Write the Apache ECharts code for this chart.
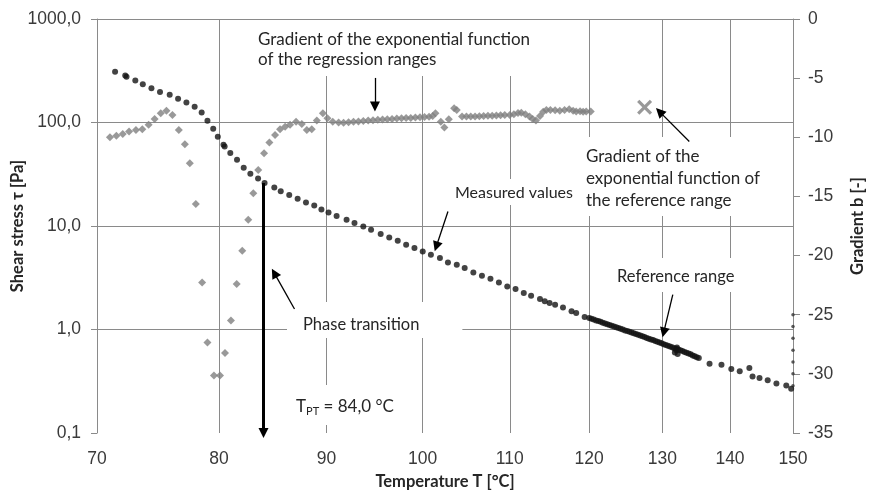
<!DOCTYPE html>
<html>
<head>
<meta charset="UTF-8">
<title>Shear stress and gradient vs temperature</title>
<script src="https://cdn.jsdelivr.net/npm/echarts@6/dist/echarts.min.js"></script>
<style>
  body { margin: 0; background: #fff; }
  #chart { width: 871px; height: 495px; }
</style>
</head>
<body>
<div id="chart"></div>
<script>
// measured shear stress (black dots), left log axis
var measuredT = [
  71.4, 72.2, 72.3, 73.0, 73.6, 74.3, 75.0, 75.8, 76.5, 77.2, 77.9, 78.5, 79.0, 79.5, 79.9, 80.4, 80.5, 81.0,
  81.6, 82.2, 82.8, 83.5, 84.1, 85.0, 85.6, 86.4, 87.2, 88.0, 88.8, 89.5, 90.2, 91.0,
  92.0, 92.8, 93.7, 94.5, 95.5, 96.4, 97.3, 98.2, 99.1, 100.0, 100.9, 101.9, 102.8, 103.8, 104.7, 105.7,
  106.7, 107.7, 108.7, 109.7, 110.7, 111.7, 112.6, 113.7, 114.3, 114.9, 115.6, 116.6, 117.7, 118.3, 119.4,
  120.0, 120.3, 120.6, 120.9, 121.2, 121.5, 121.8, 122.1, 122.4, 122.7, 123.0, 123.3, 123.6, 123.9, 124.2,
  124.5, 124.8, 125.1, 125.4, 125.7, 126.0, 126.3, 126.6, 126.9, 127.2, 127.5, 127.8, 128.1, 128.4, 128.7,
  129.0, 129.3, 129.6, 129.9, 130.2, 130.5, 130.8, 131.1, 131.4, 131.7, 132.0, 131.8, 132.0, 132.2, 132.1,
  132.3, 132.6, 132.9, 133.2, 133.5, 133.8, 134.1, 134.4, 134.7, 135.0, 135.3,
  136.9, 138.7, 140.2, 141.5, 143.0, 143.5, 144.6, 145.9, 147.3, 148.9, 149.7
];
var measuredTau = [
  310, 284, 277, 254, 234, 214, 197, 185, 170, 156, 142, 125, 104, 87, 73, 61, 58.5, 50.6,
  43.6, 36.5, 31.9, 28.8, 26.0, 23.5, 21.7, 19.9, 18.3, 16.9, 15.8, 14.4, 13.5, 12.5,
  11.5, 10.7, 9.89, 9.19, 8.35, 7.74, 7.20, 6.59, 6.12, 5.67, 5.27, 4.90, 4.45, 4.22, 3.92, 3.56,
  3.30, 3.09, 2.85, 2.61, 2.46, 2.25, 2.12, 1.97, 1.87, 1.80, 1.73, 1.63, 1.50, 1.44, 1.32,
  1.29, 1.27, 1.25, 1.225, 1.205, 1.185, 1.165, 1.145, 1.125, 1.105, 1.09, 1.07, 1.05, 1.035, 1.015,
  1.0, 0.98, 0.965, 0.95, 0.935, 0.92, 0.905, 0.89, 0.875, 0.86, 0.845, 0.83, 0.815, 0.80, 0.79,
  0.775, 0.76, 0.75, 0.735, 0.72, 0.71, 0.695, 0.685, 0.675, 0.66, 0.65, 0.60, 0.63, 0.58, 0.67,
  0.64, 0.63, 0.62, 0.605, 0.595, 0.585, 0.575, 0.56, 0.55, 0.54, 0.53,
  0.468, 0.457, 0.416, 0.394, 0.425, 0.352, 0.340, 0.323, 0.300, 0.287, 0.267
];

// gradient of the regression ranges (grey diamonds), right axis
var gradT = [
  71.0, 71.5, 72.0, 72.5, 73.05, 73.56, 74.07, 74.56, 75.06, 75.53, 76.03, 76.56, 77.07, 77.49, 78.0,
  78.54, 79.0, 79.56, 80.09, 80.53, 81.06, 81.57, 82.07, 82.61, 83.07, 83.52, 84.05, 84.54, 85.07, 85.54,
  86.01, 86.48, 87.05, 87.6, 88.08, 88.56, 89.05, 89.64, 90.09, 90.62,
  91.2, 91.7, 92.2, 92.7, 93.2, 93.7, 94.2, 94.7, 95.2, 95.7, 96.2, 96.7, 97.2, 97.7, 98.2, 98.7, 99.2,
  99.7, 100.2, 100.7, 101.1, 101.4, 102.0, 102.4, 102.9, 103.5, 103.8, 104.4, 104.9, 105.4, 105.9, 106.4,
  106.9, 107.4, 107.9, 108.4, 108.9, 109.4, 110.0, 110.5, 111.0, 111.4, 111.9, 112.4, 112.8, 113.2, 113.7,
  114.1, 114.5, 115.0, 115.6, 116.2, 116.8, 117.4, 117.9, 118.3, 118.8, 119.2, 119.6, 120.2
];
var gradB = [
  -9.99, -9.88, -9.72, -9.52, -9.38, -9.32, -8.95, -8.45, -7.97, -7.75, -8.11, -9.38, -10.59, -12.19, -15.63,
  -22.28, -27.35, -30.14, -30.14, -28.24, -25.49, -22.41, -19.60, -16.98, -14.73, -12.76, -11.35, -10.45, -9.80, -9.32,
  -9.10, -8.95, -8.68, -8.87, -9.38, -9.32, -8.59, -7.97, -8.39, -8.68,
  -8.76, -8.78, -8.72, -8.68, -8.66, -8.62, -8.58, -8.55, -8.52, -8.50, -8.47, -8.45, -8.42, -8.40, -8.38, -8.36, -8.33,
  -8.30, -8.28, -8.26, -8.20, -7.97, -8.68, -9.18, -8.47, -7.54, -7.69, -8.25, -8.25, -8.25, -8.25, -8.22,
  -8.20, -8.18, -8.17, -8.15, -8.14, -8.12, -8.11, -8.05, -7.95, -7.92, -8.05, -8.25, -8.45, -8.59, -8.20,
  -7.85, -7.69, -7.70, -7.72, -7.75, -7.70, -7.63, -7.75, -7.83, -7.80, -7.85, -7.83, -7.83
];

// gradient of the reference range (grey cross)
var refGradT = [127.5];
var refGradB = [-7.46];

// small dots on the right edge
var edgeT = [150, 150, 150, 150, 150, 150, 150];
var edgeB = [-25, -26, -27, -28, -29, -30, -31];

var xTicks = [70, 80, 90, 100, 110, 120, 130, 140, 150];
var tPhase = 84.0;
var tauAtPhase = 26;

function pairs(xs, ys) {
  var out = [];
  for (var i = 0; i < xs.length; i++) out.push([xs[i], ys[i]]);
  return out;
}

function arrow(from, to, extra) {
  var a = { coord: from, symbol: 'none' };
  var b = { coord: to, symbol: 'triangle' };
  if (extra) { for (var k in extra) a[k] = extra[k]; }
  return [a, b];
}

var gridColor = '#8a8a8a';
var labelColor = '#3a3a3a';
var textColor = '#262626';
var numFont = 'Liberation Sans';
var annFont = 'Lato';

var option = {
  animation: false,
  backgroundColor: '#fff',
  grid: { left: 97, right: 78, top: 19, bottom: 62, containLabel: false, outerBoundsMode: 'none' },
  xAxis: {
    type: 'log',
    logBase: 10,
    min: 70,
    max: 150,
    name: 'Temperature T [°C]',
    nameLocation: 'middle',
    nameGap: 40,
    nameMoveOverlap: false,
    nameTextStyle: { fontFamily: annFont, fontWeight: 'bold', fontSize: 16.5, color: textColor },
    axisLine: { show: true, lineStyle: { color: gridColor, width: 1 } },
    axisTick: { show: false, customValues: xTicks },
    axisLabel: { customValues: xTicks, margin: 17, fontFamily: numFont, fontSize: 17.5, color: labelColor },
    splitLine: { show: true, lineStyle: { color: gridColor, width: 1 } }
  },
  yAxis: [{
    type: 'log',
    logBase: 10,
    min: 0.1,
    max: 1000,
    position: 'left',
    name: 'Shear stress τ [Pa]',
    nameLocation: 'middle',
    nameGap: 71,
    nameMoveOverlap: false,
    nameTextStyle: { fontFamily: annFont, fontWeight: 'bold', fontSize: 16.5, color: textColor },
    axisLine: { show: true, lineStyle: { color: gridColor, width: 1 } },
    axisTick: { show: true, inside: false, length: 6, lineStyle: { color: gridColor } },
    axisLabel: {
      margin: 16, fontFamily: numFont, fontSize: 17.5, color: labelColor,
      formatter: function (v) { return Number(v).toFixed(1).replace('.', ','); }
    },
    splitLine: { show: true, showMinLine: false, showMaxLine: false, lineStyle: { color: gridColor, width: 1 } }
  }, {
    type: 'value',
    min: -35,
    max: 0,
    interval: 5,
    position: 'right',
    name: 'Gradient b [-]',
    nameLocation: 'middle',
    nameGap: 56,
    nameMoveOverlap: false,
    nameTextStyle: { fontFamily: annFont, fontWeight: 'bold', fontSize: 16.5, color: textColor },
    axisLine: { show: true, lineStyle: { color: gridColor, width: 1 } },
    axisTick: { show: true, inside: false, length: 7, lineStyle: { color: gridColor } },
    axisLabel: { margin: 15, fontFamily: numFont, fontSize: 17.5, color: labelColor },
    splitLine: { show: false }
  }],
  graphic: [
    { type: 'text', left: 250, top: 20, z: 1,
      style: { text: 'Gradient of the exponential function\nof the regression ranges', fontFamily: annFont, fontSize: 17,
               lineHeight: 20, fill: textColor, backgroundColor: '#fff', padding: [10, 8, 6, 8] } },
    { type: 'text', left: 447, top: 179, z: 1,
      style: { text: 'Measured values', fontFamily: annFont, fontSize: 16, lineHeight: 20, fill: textColor,
               backgroundColor: '#fff', padding: [4, 8, 2, 8] } },
    { type: 'text', left: 576, top: 137, z: 1,
      style: { text: 'Gradient of the\nexponential function of\nthe reference range', fontFamily: annFont, fontSize: 17,
               lineHeight: 22, fill: textColor, backgroundColor: '#fff', padding: [9, 10, 4, 10] } },
    { type: 'text', left: 600, top: 258, z: 1,
      style: { text: 'Reference range', fontFamily: annFont, fontSize: 16.5, lineHeight: 20, fill: textColor,
               backgroundColor: '#fff', padding: [9, 12, 5, 17] } },
    { type: 'text', left: 287, top: 302, z: 1,
      style: { text: 'Phase transition', fontFamily: annFont, fontSize: 16.5, lineHeight: 20, fill: textColor,
               backgroundColor: '#fff', padding: [13, 43, 3, 16] } },
    { type: 'text', left: 286, top: 385, z: 1,
      style: {
        text: '{a|T}{s|PT}{a| = 84,0 °C}', backgroundColor: '#fff', padding: [12, 10, 8, 10],
        rich: {
          a: { fontFamily: annFont, fontSize: 17, lineHeight: 20, fill: textColor },
          s: { fontFamily: annFont, fontSize: 11, lineHeight: 12, verticalAlign: 'bottom', fill: textColor }
        }
      } }
  ],
  series: [{
    name: 'Gradient',
    type: 'scatter',
    xAxisIndex: 0,
    yAxisIndex: 1,
    symbol: 'diamond',
    symbolSize: 8,
    itemStyle: { color: '#7f7f7f' },
    data: pairs(gradT, gradB),
    z: 3
  }, {
    name: 'Reference gradient',
    type: 'scatter',
    xAxisIndex: 0,
    yAxisIndex: 1,
    symbol: 'path://M3,0 L10,7 L17,0 L20,3 L13,10 L20,17 L17,20 L10,13 L3,20 L0,17 L7,10 L0,3 Z',
    symbolSize: 15,
    itemStyle: { color: '#808080' },
    data: pairs(refGradT, refGradB),
    z: 3
  }, {
    name: 'Edge',
    type: 'scatter',
    xAxisIndex: 0,
    yAxisIndex: 1,
    symbol: 'circle',
    symbolSize: 3.5,
    itemStyle: { color: '#333' },
    data: pairs(edgeT, edgeB),
    z: 3
  }, {
    name: 'Measured values',
    type: 'scatter',
    xAxisIndex: 0,
    yAxisIndex: 0,
    symbol: 'circle',
    symbolSize: 6,
    itemStyle: { color: '#141414' },
    data: pairs(measuredT, measuredTau),
    z: 4,
    markLine: {
      silent: true,
      symbolSize: 10,
      label: { show: false },
      lineStyle: { color: '#000', width: 1.3, type: 'solid' },
      data: [
        arrow([94.9, 269.5], [94.9, 142.4]),
        arrow([102.8, 13.8], [101.5, 6.34]),
        arrow([133.9, 65.5], [129.6, 127.4]),
        arrow([131.5, 2.17], [130.2, 0.937]),
        arrow([86.9, 1.578], [85.0, 3.51]),
        arrow([tPhase, tauAtPhase], [tPhase, 0.1], { lineStyle: { width: 3, color: '#000' }, symbolSize: 13 })
      ]
    }
  }]
};

var chart = echarts.init(document.getElementById('chart'));
chart.setOption(option);
</script>
</body>
</html>
